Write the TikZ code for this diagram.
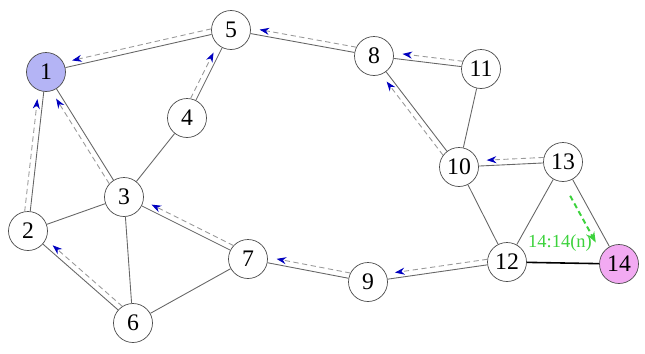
\documentclass[tikz,border=0pt]{standalone}
\usepackage{fontspec}
\setmainfont{Liberation Serif}
\usetikzlibrary{arrows.meta,calc}
\definecolor{bleunoeud}{RGB}{180,180,245}
\definecolor{rosenoeud}{RGB}{242,170,242}
\definecolor{vertroute}{RGB}{60,210,60}
\tikzset{
  noeud/.style={circle,draw=black!70,fill=white,minimum size=0.78cm,inner sep=0pt,
    font=\fontsize{13.5}{15}\selectfont},
  lien/.style={draw=black!60,line width=0.5pt},
  route/.style={draw=black!40,dash pattern=on 3pt off 2pt,line width=0.5pt,
    -{Stealth[length=5.5pt,width=4pt,color=blue!75!black]},
    shorten <=0.38cm,shorten >=0.56cm},
}
\begin{document}
\begin{tikzpicture}
  \useasboundingbox (0,0) rectangle (12.9,7.06);
  % Noeuds du reseau
  \node[noeud,fill=bleunoeud] (n1) at (0.92,5.62) {1};
  \node[noeud] (n2) at (0.56,2.44) {2};
  \node[noeud] (n3) at (2.48,3.12) {3};
  \node[noeud] (n4) at (3.74,4.70) {4};
  \node[noeud] (n5) at (4.62,6.46) {5};
  \node[noeud] (n6) at (2.66,0.60) {6};
  \node[noeud] (n7) at (4.96,1.88) {7};
  \node[noeud] (n8) at (7.48,5.94) {8};
  \node[noeud] (n9) at (7.36,1.42) {9};
  \node[noeud] (n10) at (9.18,3.72) {10};
  \node[noeud] (n11) at (9.62,5.68) {11};
  \node[noeud] (n12) at (10.14,1.82) {12};
  \node[noeud] (n13) at (11.26,3.82) {13};
  \node[noeud,fill=rosenoeud] (n14) at (12.38,1.78) {14};

  % Liens
  \foreach \a/\b in {1/5,1/2,1/3,5/4,5/8,4/3,3/2,3/6,3/7,2/6,6/7,7/9,9/12,
                     8/11,8/10,11/10,10/13,10/12,12/13,13/14}
    \draw[lien] (n\a) -- (n\b);
  \draw[line width=0.9pt] (n12) -- (n14);

  % Routes vers 1 (pointilles decales a droite ou a gauche du lien)
  \foreach \a/\b/\p/\q in {5/1/-90/90, 4/5/90/-90, 2/1/90/-90, 3/1/90/-90,
                           8/5/-90/90, 11/8/-90/90, 10/8/90/-90, 13/10/-90/90,
                           12/9/-90/90, 9/7/-90/90, 7/3/-90/90, 6/2/-90/90}
    \draw[route] ($(n\a)!0.11cm!\p:(n\b)$) -- ($(n\b)!0.11cm!\q:(n\a)$);

  % Nouvelle route de 13 vers 14
  \draw[route,draw=vertroute,line width=1.1pt,shorten <=0.66cm,shorten >=0.6cm,
    -{Stealth[length=6pt,width=4.5pt,color=vertroute]}]
    ($(n13)!0.2cm!-90:(n14)$) -- ($(n14)!0.2cm!90:(n13)$);
  \node[text=vertroute,font=\fontsize{10.5}{12}\selectfont] (etiq) at (11.2,2.2) {14:14(n)};
\end{tikzpicture}
\end{document}
